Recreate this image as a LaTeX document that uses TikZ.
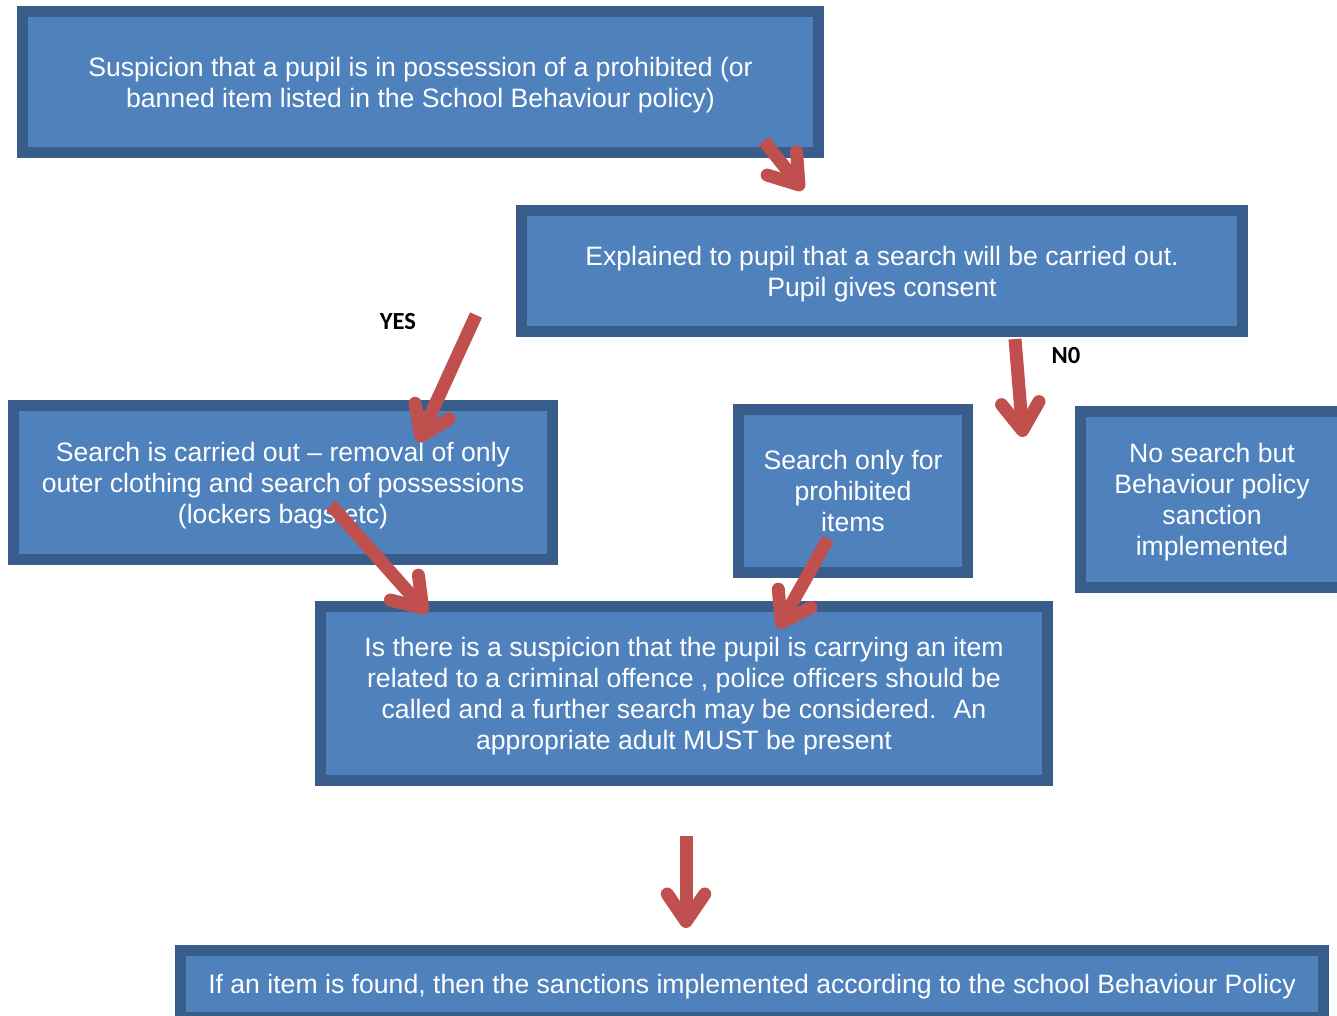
\documentclass[tikz,border=0pt]{standalone}
\usepackage{fontspec}
\setmainfont{Liberation Sans}
\newfontfamily\labelfont{Carlito}
\usetikzlibrary{arrows.meta}
\definecolor{boxfill}{HTML}{4F81BD}
\definecolor{boxline}{HTML}{385D8A}
\definecolor{arrowred}{HTML}{C0504D}
\newcommand{\topstrut}{\rule{0pt}{14.2pt}}

\begin{document}
\begin{tikzpicture}[x=0.02cm, y=-0.02cm,
    flowbox/.style={draw=boxline, fill=boxfill, line width=0.22cm, text=white,
      align=center, inner sep=0pt, font=\fontsize{15.15}{17.6}\selectfont},
    redarrow/.style={draw=arrowred, line width=0.26cm,
      -{Straight Barb[length=0.55cm, width=0.75cm, round]}},
    answer/.style={font=\labelfont\bfseries\fontsize{14}{16}\selectfont}]
  \useasboundingbox (0,0) rectangle (1337,1015);
  \clip (0,0) rectangle (1337,1015);

  % boxes
  \node[flowbox, minimum width=15.92cm, minimum height=2.82cm] (suspicion) at (420.5,82)
    {\topstrut Suspicion that a pupil is in possession of a prohibited (or\\banned item listed in the School Behaviour policy)};
  \node[flowbox, minimum width=14.42cm, minimum height=2.42cm] (explain) at (882,271)
    {\topstrut Explained to pupil that a search will be carried out.\\Pupil gives consent};
  \node[flowbox, minimum width=10.78cm, minimum height=3.08cm] (search) at (283,482.5)
    {\topstrut Search is carried out -- removal of only\\outer clothing and search of possessions\\(lockers bags etc)};
  \node[flowbox, minimum width=4.58cm, minimum height=3.26cm] (prohibited) at (853,491)
    {Search only for\\prohibited\\items};
  \node[flowbox, minimum width=5.26cm, minimum height=3.52cm] (nosearch) at (1212,499.5)
    {\topstrut No search but\\Behaviour policy\\sanction\\implemented};
  \node[flowbox, minimum width=14.54cm, minimum height=3.48cm] (criminal) at (684,693.5)
    {\topstrut Is there is a suspicion that the pupil is carrying an item\\related to a criminal offence , police officers should be\\called and a further search may be considered.~ An\\appropriate adult MUST be present};
  \node[flowbox, minimum width=22.86cm, minimum height=1.34cm] (sanctions) at (752,984)
    {\topstrut If an item is found, then the sanctions implemented according to the school Behaviour Policy};

  % answers
  \node[answer] (yes) at (398,322) {YES};
  \node[answer] (no) at (1066,356) {N0};

  % arrow ends
  \coordinate (a1) at (764,141);
  \coordinate (b1) at (803,190);
  \coordinate (a2) at (476,315);
  \coordinate (b2) at (418,442);
  \coordinate (a3) at (1015,339);
  \coordinate (b3) at (1023,437);
  \coordinate (a4) at (331,505);
  \coordinate (b4) at (427,613);
  \coordinate (a5) at (828,539);
  \coordinate (b5) at (778,628);
  \coordinate (a6) at (686,836);
  \coordinate (b6) at (686,928);

  \foreach \i in {1,...,6} {
    \draw[redarrow] (a\i) -- (b\i);
  }
\end{tikzpicture}
\end{document}
